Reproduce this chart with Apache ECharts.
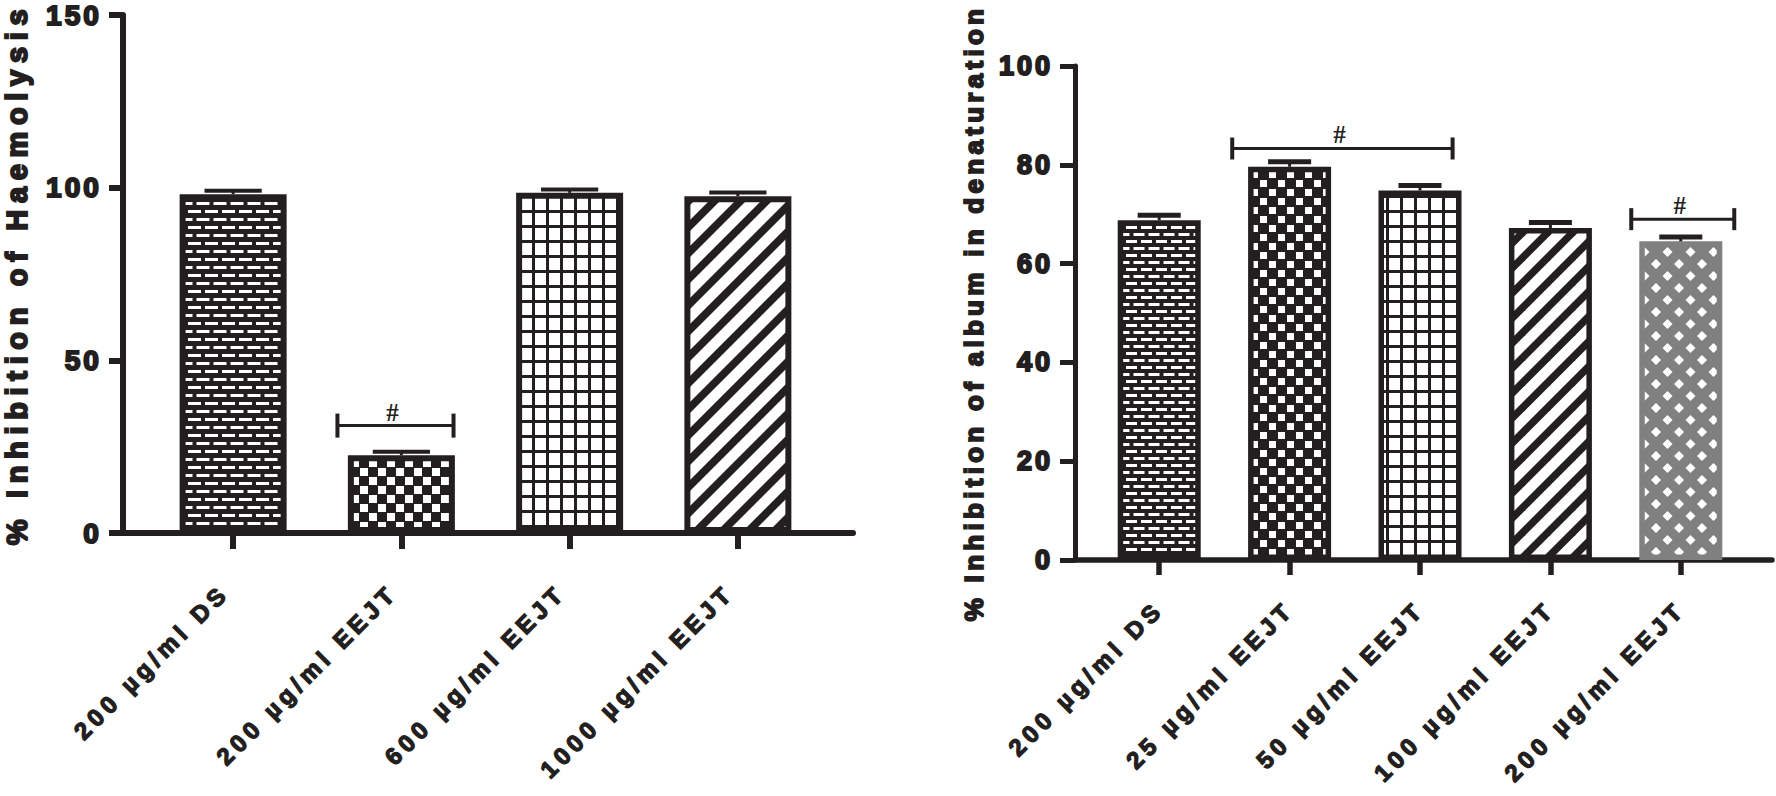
<!DOCTYPE html>
<html>
<head>
<meta charset="utf-8">
<script src="https://cdn.jsdelivr.net/npm/echarts@6/dist/echarts.min.js"></script>
<style>
  html, body { margin: 0; padding: 0; background: #fff; }
  #main { width: 1776px; height: 796px; }
  /* wide tracking like the GraphPad export */
  #main text { letter-spacing: 0.2em; }
  #main text[style*="28px"], #main text[style*="27px"] { letter-spacing: 0.11em; }
  #main text[style*="29px"] { letter-spacing: 0.23em; }
  #main text[style*="26px"] { letter-spacing: 0.165em; }
  #main text[style*="Serif"] { letter-spacing: 0; }
</style>
</head>
<body>
<div id="main"></div>
<script>
  // ---- data ----
  var leftCategories = ['200 µg/ml DS', '200 µg/ml EEJT', '600 µg/ml EEJT', '1000 µg/ml EEJT'];
  var leftValues = [98.1, 22.5, 98.5, 97.5];
  var leftErrors = [1.0, 1.0, 1.0, 1.1];
  var leftAxis = { min: 0, max: 150, interval: 50 };
  var leftTitle = '% Inhibition of Haemolysis';
  // [from category, y, to category]
  var leftBrackets = [[1, 31.1, 1]];

  var rightCategories = ['200 µg/ml DS', '25 µg/ml EEJT', '50 µg/ml EEJT', '100 µg/ml EEJT', '200 µg/ml EEJT'];
  var rightValues = [68.8, 79.6, 74.8, 67.2, 64.5];
  var rightErrors = [1.0, 1.0, 1.0, 1.1, 0.9];
  var rightAxis = { min: 0, max: 100, interval: 20 };
  var rightTitle = '% Inhibition of album in denaturation';
  var rightBrackets = [[1, 83.3, 2], [4, 69.0, 4]];

  var INK = '#231f20';
  var GRAY = '#808080';

  // ---- fill patterns ----
  function tile(w, h, draw) {
    var c = document.createElement('canvas');
    c.width = w; c.height = h;
    draw(c.getContext('2d'), w, h);
    return { image: c, repeat: 'repeat' };
  }
  function brick(w, h, dash, th) {
    return tile(w, h, function (g) {
      g.fillStyle = INK; g.fillRect(0, 0, w, h);
      g.fillStyle = '#fff';
      g.fillRect(1, 2, dash, th);
      g.fillRect(1 + w / 2, 2 + h / 2, dash, th);
      g.fillRect(1 + w / 2 - w, 2 + h / 2, dash, th);
    });
  }
  function checker(w, sq) {
    return tile(w, w, function (g) {
      g.fillStyle = INK; g.fillRect(0, 0, w, w);
      g.fillStyle = '#fff';
      g.fillRect(0, 0, sq, sq);
      g.fillRect(w / 2, w / 2, sq, sq);
    });
  }
  function grid(w, h, lw) {
    return tile(w, h, function (g) {
      g.fillStyle = '#fff'; g.fillRect(0, 0, w, h);
      g.fillStyle = INK;
      g.fillRect(0, 0, lw, h);
      g.fillRect(0, 0, w, lw);
    });
  }
  function stripes(p, bw) {
    return tile(p, p, function (g) {
      g.fillStyle = '#fff'; g.fillRect(0, 0, p, p);
      g.fillStyle = INK;
      for (var o = -p; o <= p; o += p) {
        g.beginPath();
        g.moveTo(o, p); g.lineTo(o + bw, p); g.lineTo(o + bw + p, 0); g.lineTo(o + p, 0);
        g.closePath(); g.fill();
      }
    });
  }
  function lattice(w, h, r) {
    return tile(w, h, function (g) {
      g.fillStyle = GRAY; g.fillRect(0, 0, w, h);
      g.fillStyle = '#fff';
      [[0, 0], [w, 0], [0, h], [w, h], [w / 2, h / 2]].forEach(function (p) {
        g.beginPath();
        g.moveTo(p[0], p[1] - r); g.lineTo(p[0] + r, p[1]); g.lineTo(p[0], p[1] + r); g.lineTo(p[0] - r, p[1]);
        g.closePath(); g.fill();
      });
    });
  }

  var leftFills = [brick(17, 16, 13, 3), checker(18, 8), grid(14, 15, 3), stripes(26, 11)];
  var rightFills = [brick(15, 14, 11, 3), checker(18, 7), grid(14, 15, 3), stripes(25, 10.5), lattice(23, 24, 5)];
  var rightBorders = [INK, INK, INK, INK, GRAY];
  // horizontal reach of each bracket, in category widths, from its end bars
  var leftBracketPads = [[-0.38, 0.31]];
  var rightBracketPads = [[-0.44, 0.25], [-0.38, 0.41]];

  var FONT = 'Liberation Sans';
  // a stroke round the glyphs gives the heavy look of the original lettering
  function txt(extra, stroke) {
    return Object.assign({ color: INK, fontFamily: FONT, fontWeight: 'bold',
      textBorderColor: INK, textBorderWidth: stroke || 1.6 }, extra);
  }

  function errorSeries(axisIdx, values, errors, capFrac, lw) {
    return {
      type: 'custom', xAxisIndex: axisIdx, yAxisIndex: axisIdx, z: 5, silent: true,
      data: values.map(function (v, i) { return [i, v, errors[i]]; }),
      renderItem: function (params, api) {
        var base = api.coord([api.value(0), api.value(1)]);
        var top = api.coord([api.value(0), api.value(1) + api.value(2)]);
        var half = api.size([1, 0])[0] * capFrac / 2;
        return {
          type: 'group', children: [
            { type: 'line', shape: { x1: base[0], y1: base[1], x2: top[0], y2: top[1] }, style: { stroke: INK, lineWidth: 3 } },
            { type: 'line', shape: { x1: top[0] - half, y1: top[1], x2: top[0] + half, y2: top[1] }, style: { stroke: INK, lineWidth: lw } }
          ]
        };
      }
    };
  }

  function bracketSeries(axisIdx, brackets, pads, tickHalf) {
    return {
      type: 'custom', xAxisIndex: axisIdx, yAxisIndex: axisIdx, z: 6, silent: true,
      data: brackets,
      renderItem: function (params, api) {
        var pad = pads[params.dataIndex];
        var a = api.coord([api.value(0), api.value(1)]);
        var b = api.coord([api.value(2), api.value(1)]);
        var band = api.size([1, 0])[0];
        var x1 = a[0] + pad[0] * band, x2 = b[0] + pad[1] * band, y = a[1];
        return {
          type: 'group', children: [
            { type: 'line', shape: { x1: x1, y1: y, x2: x2, y2: y }, style: { stroke: INK, lineWidth: 3 } },
            { type: 'line', shape: { x1: x1, y1: y - tickHalf, x2: x1, y2: y + tickHalf }, style: { stroke: INK, lineWidth: 4 } },
            { type: 'line', shape: { x1: x2, y1: y - tickHalf, x2: x2, y2: y + tickHalf }, style: { stroke: INK, lineWidth: 4 } },
            { type: 'text', style: { text: '#', x: (x1 + x2) / 2 - 3, y: y - 1, align: 'center', verticalAlign: 'bottom',
                font: 'bold 25px "Liberation Serif"', fill: INK } }
          ]
        };
      }
    };
  }

  var chart = echarts.init(document.getElementById('main'), null, { renderer: 'svg' });

  var option = {
    animation: false,
    backgroundColor: '#fff',
    grid: [
      { left: 121, top: 15, width: 732, height: 518 },   // left frame
      { left: 149, top: 15, width: 673, height: 518 },   // left bars
      { left: 1075, top: 66, width: 697, height: 494 },  // right frame
      { left: 1094, top: 66, width: 652, height: 494 }   // right bars
    ],
    xAxis: [
      { gridIndex: 0, type: 'value', min: 0, max: 1, axisLine: { show: true, lineStyle: { color: INK, width: 6 } },
        axisTick: { show: false }, axisLabel: { show: false }, splitLine: { show: false } },
      { gridIndex: 1, type: 'category', data: leftCategories, axisLine: { show: false },
        axisTick: { show: true, alignWithLabel: true, length: 16, lineStyle: { color: INK, width: 6 } },
        axisLabel: txt({ interval: 0, rotate: 45, margin: 64, verticalAlign: 'bottom', fontSize: 24 }, 1.3) },
      { gridIndex: 2, type: 'value', min: 0, max: 1, axisLine: { show: true, lineStyle: { color: INK, width: 5.5 } },
        axisTick: { show: false }, axisLabel: { show: false }, splitLine: { show: false } },
      { gridIndex: 3, type: 'category', data: rightCategories, axisLine: { show: false },
        axisTick: { show: true, alignWithLabel: true, length: 15, lineStyle: { color: INK, width: 5.5 } },
        axisLabel: txt({ interval: 0, rotate: 45, margin: 45, fontSize: 24 }, 1.3) }
    ],
    yAxis: [
      { gridIndex: 0, type: 'value', min: leftAxis.min, max: leftAxis.max, interval: leftAxis.interval,
        name: leftTitle, nameLocation: 'middle', nameGap: 92,
        nameTextStyle: txt({ fontSize: 29 }, 2),
        axisLine: { show: true, lineStyle: { color: INK, width: 6 } },
        axisTick: { show: true, length: 14, lineStyle: { color: INK, width: 6 } },
        axisLabel: txt({ margin: 21, fontSize: 28 }, 2),
        splitLine: { show: false } },
      { gridIndex: 1, type: 'value', min: leftAxis.min, max: leftAxis.max, show: false },
      { gridIndex: 2, type: 'value', min: rightAxis.min, max: rightAxis.max, interval: rightAxis.interval,
        name: rightTitle, nameLocation: 'middle', nameGap: 88,
        nameTextStyle: txt({ fontSize: 26 }, 1.8),
        axisLine: { show: true, lineStyle: { color: INK, width: 5 } },
        axisTick: { show: true, length: 15, lineStyle: { color: INK, width: 5 } },
        axisLabel: txt({ margin: 22, fontSize: 27 }, 2),
        splitLine: { show: false } },
      { gridIndex: 3, type: 'value', min: rightAxis.min, max: rightAxis.max, show: false }
    ],
    series: [
      { type: 'bar', xAxisIndex: 1, yAxisIndex: 1, barWidth: 107, z: 3,
        data: leftValues.map(function (v, i) {
          return { value: v, itemStyle: { color: leftFills[i], borderColor: INK, borderWidth: 6 } };
        }) },
      errorSeries(1, leftValues, leftErrors, 0.34, 4),
      bracketSeries(1, leftBrackets, leftBracketPads, 12),
      { type: 'bar', xAxisIndex: 3, yAxisIndex: 3, barWidth: 83, z: 3,
        data: rightValues.map(function (v, i) {
          return { value: v, itemStyle: { color: rightFills[i], borderColor: rightBorders[i], borderWidth: 5.5 } };
        }) },
      errorSeries(3, rightValues, rightErrors, 0.33, 5),
      bracketSeries(3, rightBrackets, rightBracketPads, 11)
    ]
  };

  chart.setOption(option);
</script>
</body>
</html>
